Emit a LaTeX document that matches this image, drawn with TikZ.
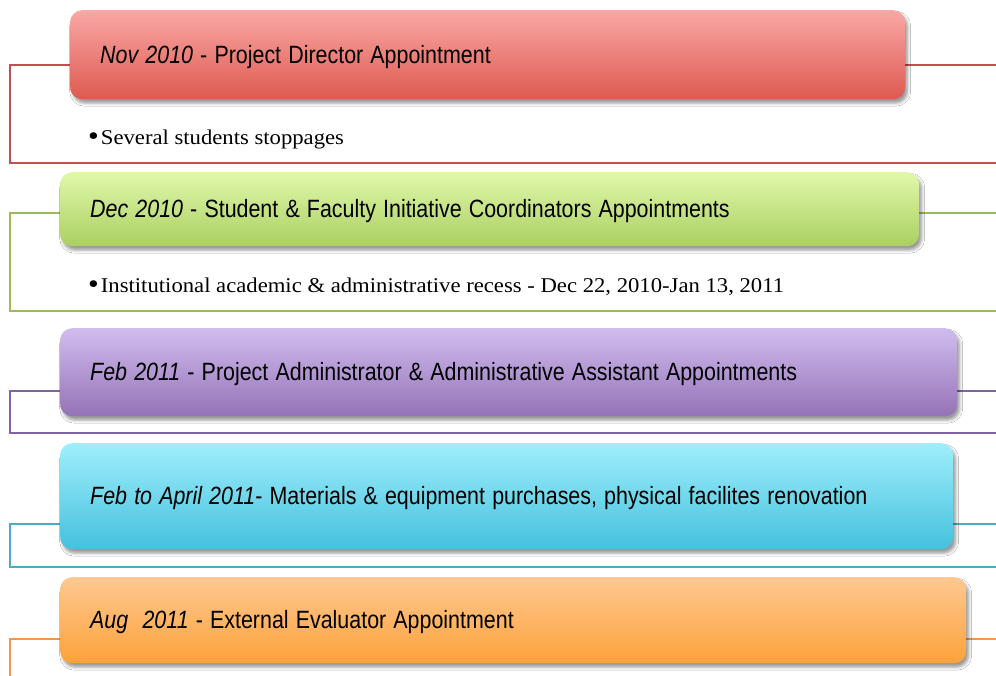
\documentclass[tikz,border=0pt]{standalone}
\usepackage{fontspec}
\setmainfont{Liberation Serif}
\newfontfamily\titlefont{Liberation Sans}
\newfontfamily\notefont[FakeStretch=1.08]{Liberation Serif}
\usetikzlibrary{shadows.blur}

% accent colours (frame line / gradient top / gradient bottom)
\definecolor{redline}{HTML}{C0504D}
\definecolor{redtop}{HTML}{F9A8A5}
\definecolor{redbot}{HTML}{DD5A50}
\definecolor{greenline}{HTML}{9BBB59}
\definecolor{greentop}{HTML}{E1F8AA}
\definecolor{greenbot}{HTML}{AACF62}
\definecolor{purpleline}{HTML}{8064A2}
\definecolor{purpletop}{HTML}{D0BDEE}
\definecolor{purplebot}{HTML}{9572B7}
\definecolor{cyanline}{HTML}{4BACC6}
\definecolor{cyantop}{HTML}{9FEEFB}
\definecolor{cyanbot}{HTML}{45C1DE}
\definecolor{orangeline}{HTML}{F79646}
\definecolor{orangetop}{HTML}{FEC891}
\definecolor{orangebot}{HTML}{FDA23A}

% narrow title lettering: date in italics, then the event
\newcommand{\phasetext}[2]{\scalebox{0.857}[1]{\itshape #1\upshape #2}}
\newcommand{\notebullet}{\raisebox{-1pt}{\scalebox{1.35}{\textbullet}}\hspace{2pt}}

\begin{document}
\begin{tikzpicture}[x=1pt, y=-1pt,
  phase/.style={rounded corners=12pt, anchor=north west, inner xsep=30pt,
    inner ysep=0pt, align=left, text=black, text height=17.5pt, text depth=0pt,
    font=\titlefont\fontsize{25}{30}\selectfont,
    blur shadow={shadow xshift=2.5pt, shadow yshift=-4pt,
      shadow blur radius=3pt, shadow opacity=40}},
  frame/.style={line width=1.4pt},
  note/.style={anchor=west, inner sep=0pt, text=black,
    font=\notefont\fontsize{21}{25}\selectfont}
]
\useasboundingbox (0,0) rectangle (996,676);
\fill[white] (0,0) rectangle (996,676);
\begin{scope}
\clip (0,0) rectangle (996,676);

% frames behind each phase
\draw[frame, redline]    (10,65)  rectangle (1010,163);
\draw[frame, greenline]  (10,213) rectangle (1010,311);
\draw[frame, purpleline] (10,391) rectangle (1010,433);
\draw[frame, cyanline]   (10,524) rectangle (1010,567);
\draw[frame, orangeline] (10,639) rectangle (1010,700);

% phases
\node[phase, top color=redtop, bottom color=redbot,
  text width=775pt, minimum height=89pt] (p1) at (70,10)
  {\phasetext{Nov 2010}{ - Project Director Appointment}};
\node[phase, top color=greentop, bottom color=greenbot,
  text width=799pt, minimum height=74pt] (p2) at (60,172)
  {\phasetext{Dec 2010}{ - Student \& Faculty Initiative Coordinators Appointments}};
\node[phase, top color=purpletop, bottom color=purplebot,
  text width=837pt, minimum height=88pt] (p3) at (60,328)
  {\phasetext{Feb 2011}{ - Project Administrator \& Administrative Assistant Appointments}};
\node[phase, top color=cyantop, bottom color=cyanbot,
  text width=833pt, minimum height=106pt] (p4) at (60,443)
  {\phasetext{Feb to April 2011}{- Materials \& equipment purchases, physical facilites renovation}};
\node[phase, top color=orangetop, bottom color=orangebot,
  text width=846pt, minimum height=86pt] (p5) at (60,577)
  {\phasetext{Aug\ \ 2011}{ - External Evaluator Appointment}};

% notes
\node[note] (n1) at (88,139) {\notebullet Several students stoppages};
\node[note] (n2) at (88,287) {\notebullet Institutional academic \& administrative recess - Dec 22, 2010-Jan 13, 2011};
\end{scope}
\end{tikzpicture}
\end{document}
